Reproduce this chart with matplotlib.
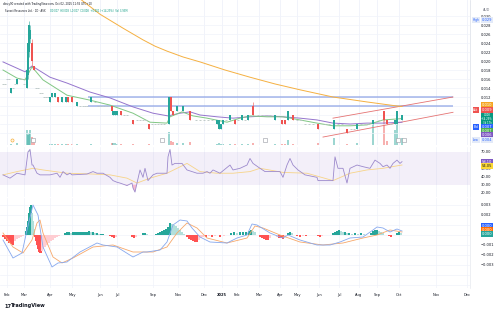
import matplotlib.pyplot as plt
import numpy as np

# ---- values; x is the bar position along the time axis ----
month_pos = [7, 24, 50, 72, 100, 117, 153, 178, 204, 222, 237, 259, 280, 297, 319, 339, 359, 377, 399, 436, 467]
month_lbl = ["Feb", "Mar", "Apr", "May", "Jun", "Jul", "Sep", "Nov", "Dec", "2025", "Feb", "Mar",
             "Apr", "May", "Jun", "Jul", "Aug", "Sep", "Oct", "Nov", "Dec"]

# daily candles, prices in thousandths of AUD, volume in millions
bar_x = [11, 17, 27, 28, 29, 30, 32, 34, 50, 52, 55, 58, 62, 66, 68, 72, 77, 91,
         112, 113, 115, 117, 121, 133, 149, 169, 171, 173, 177, 183, 190,
         217, 219, 221, 223, 230, 235, 242, 248, 253, 275, 282, 285, 288, 293,
         318, 334, 347, 357, 373, 384, 387, 395, 397, 402]
bar_open = [13, 15, 14, 17, 22, 25, 24, 19, 11, 12, 12, 12, 11, 11, 12, 12, 10, 11,
            10, 8, 8, 8, 9, 7, 6, 6, 12, 9, 9, 9, 9,
            6, 5, 5, 6, 7, 7, 7, 7, 10, 7, 7, 7, 7, 8,
            6, 5, 5, 5, 6, 9, 7, 6, 6, 7]
bar_high = [14, 16, 19, 26, 29, 28, 25, 19, 12, 13, 13, 12, 12, 12, 12, 12, 11, 12,
            10, 9, 9, 9, 9, 7, 6, 12, 12, 9, 10, 10, 9,
            7, 7, 6, 7, 8, 7, 8, 8, 11, 8, 7, 7, 9, 8,
            6, 7, 5, 6, 7, 9, 7, 7, 9, 8]
bar_low = [13, 15, 14, 16, 21, 24, 19, 18, 11, 12, 12, 11, 11, 11, 11, 11, 10, 11,
           9, 8, 8, 8, 8, 6, 5, 6, 9, 8, 9, 9, 7,
           6, 5, 5, 6, 7, 6, 7, 7, 8, 7, 6, 6, 7, 7,
           5, 5, 4, 5, 6, 7, 6, 6, 6, 7]
bar_close = [14, 16, 18, 24, 28, 27, 20, 18, 12, 13, 13, 11, 12, 12, 11, 11, 11, 12,
             9, 9, 9, 9, 8, 6, 5, 12, 9, 8, 10, 10, 7,
             7, 7, 6, 7, 8, 6, 8, 8, 8, 8, 6, 6, 9, 7,
             5, 7, 4, 6, 7, 7, 6, 7, 9, 8]
bar_vol = [3, 4, 30, 20, 24, 30, 16, 6, 3, 2, 2, 2, 2, 2, 2, 2, 3, 3,
           4, 5, 4, 3, 3, 3, 3, 26, 8, 6, 4, 4, 6,
           3, 4, 3, 3, 2, 2, 3, 2, 4, 2, 2, 2, 10, 3,
           4, 14, 3, 5, 50, 60, 8, 30, 64, 14]

# single-price (doji) days
doji_x = [3, 5, 7, 9, 13, 15, 20, 22, 24, 36, 38, 40, 42, 44, 46, 48, 80, 83, 85, 87,
          95, 98, 101, 104, 107, 124, 127, 137, 140, 143, 146, 152, 155, 158, 161, 164,
          196, 200, 204, 208, 212, 226, 238, 245, 258, 262, 266, 270, 297, 301,
          305, 309, 313, 325, 329, 338, 342, 351, 354, 361, 365, 368, 379, 391]
doji_p = [15, 15, 16, 16, 14, 15, 16, 16, 15, 14, 14, 13, 13, 12, 12, 12, 10, 10, 10, 10,
          11, 10, 10, 10, 10, 8, 8, 7, 7, 7, 7, 6, 6, 6, 6, 6,
          7, 7, 7, 7, 7, 7, 7, 7, 8, 8, 8, 8, 7, 7,
          6, 6, 6, 6, 6, 6, 6, 5, 5, 6, 6, 6, 7, 6]

# moving averages (thousandths of AUD)
ma_fast_x = [3, 17, 25, 32, 43, 67, 90, 110, 133, 150, 167, 170, 182, 193, 207, 227, 240,
             250, 267, 283, 300, 317, 333, 350, 367, 383, 402]
ma_fast_v = [18.0, 16.2, 15.8, 18.7, 15.8, 12.4, 11.3, 10.2, 8.4, 6.4, 6.2, 7.6, 8.7, 7.8,
             7.3, 6.4, 7.3, 7.8, 7.6, 7.6, 6.9, 6.2, 5.6, 5.6, 5.8, 6.9, 7.2]
ma_mid_x = [3, 25, 32, 50, 67, 90, 110, 133, 153, 168, 180, 190, 200, 217, 233, 250, 267,
            283, 300, 317, 333, 350, 367, 383, 402]
ma_mid_v = [19.8, 17.6, 18.9, 16.4, 15.1, 13.1, 11.8, 9.8, 8.4, 7.8, 8.4, 8.7, 8.0, 7.6,
            7.3, 7.6, 7.8, 7.6, 7.3, 6.9, 6.2, 6.0, 6.2, 6.2, 6.4]
ma_slow_x = [76, 100, 123, 143, 155, 167, 183, 200, 225, 250, 275, 300, 333, 367, 397, 402]
ma_slow_v = [34.5, 30.4, 27.3, 24.7, 23.3, 22.2, 20.9, 19.8, 18.0, 16.4, 14.9, 13.6, 12.0,
             10.9, 10.0, 9.9]

# drawings
level_prices = [12, 10]
level_span = (88, 453)
channel_upper = ([333, 453], [7.3, 12.0])
channel_lower = ([323, 453], [3.1, 8.6])
event_x = [12, 33, 162, 265, 398, 404]

# RSI and its moving average
rsi_x = [3, 10, 17, 25, 28, 30, 32, 33, 37, 40, 50, 57, 60, 63, 67, 70, 72, 87, 93, 97,
         103, 110, 113, 117, 120, 127, 132, 133, 135, 137, 140, 143, 145, 148, 153, 157, 167, 168, 170, 172,
         175, 182, 187, 192, 197, 203, 207, 210, 213, 220, 230, 233, 240, 247, 250, 253, 260, 265, 273, 280,
         283, 287, 290, 293, 298, 305, 317, 318, 333, 335, 338, 343, 347, 350, 357, 363, 370, 375, 380, 383,
         387, 390, 393, 397, 400, 402]
rsi_v = [42, 38, 44, 42, 70, 73, 54, 54, 44, 42, 42, 44, 39, 46, 42, 44, 42, 43, 46, 44,
         44, 39, 35, 33, 32, 29, 32, 26, 21, 32, 48, 39, 50, 35, 42, 44, 44, 64, 73, 54,
         56, 56, 48, 46, 44, 44, 46, 44, 48, 44, 54, 48, 50, 54, 62, 56, 50, 46, 46, 46,
         39, 54, 62, 54, 48, 42, 39, 35, 35, 64, 50, 50, 32, 50, 54, 52, 50, 60, 56, 52,
         54, 50, 56, 60, 56, 58.1]
rsi_ma_x = [3, 17, 33, 43, 67, 93, 110, 127, 137, 150, 167, 187, 200, 217, 233, 250, 260,
            283, 307, 333, 350, 367, 383, 402]
rsi_ma_v = [42, 46, 50, 48, 44, 43, 42, 38, 32, 38, 44, 56, 46, 44, 44, 46, 50,
            45, 44, 35, 44, 48, 50, 54.05]

# MACD (units of 0.0001)
macd_x = [3, 13, 22, 27, 33, 38, 43, 52, 58, 67, 80, 97, 103, 117, 133, 143, 147, 160, 167, 173,
          180, 187, 192, 200, 210, 227, 237, 247, 252, 257, 270, 280, 283, 288, 300, 317, 330, 340,
          350, 363, 373, 377, 383, 390, 397, 402]
macd_v = [-5, -23, -18, 5, 30, 20, -12, -32, -28, -27, -17, -8, -10, -12, -22, -17, -17, -15, -7, 10,
          15, 14, 7, -2, -7, -8, -3, 0, 11, 10, 2, -2, -3, 0, -5, -10, -10, -7,
          -3, -2, 5, 8, 7, 3, 6, 4]
signal_x = [3, 13, 23, 32, 37, 40, 43, 53, 62, 73, 93, 113, 133, 153, 167, 177, 187, 197, 207, 227,
            247, 255, 263, 280, 300, 323, 343, 363, 377, 390, 402]
signal_v = [2, -12, -18, -5, 12, 15, 2, -22, -28, -23, -12, -10, -17, -17, -12, 2, 12, 7, -3, -8,
            -3, 9, 7, 0, -7, -10, -8, -3, 0, 5, 3]
hist_x = [3, 5, 7, 9, 11, 13, 15, 17, 19, 21, 23, 26, 27, 28, 29, 30, 31, 32, 33, 34,
          35, 36, 37, 38, 39, 40, 41, 42, 43, 45, 47, 49, 51, 53, 55, 57, 59,
          65, 67, 69, 71, 73, 75, 77, 79, 81, 83, 85, 87, 89, 91, 93, 95, 97, 99, 101, 103,
          110, 112, 114, 116, 132, 134, 136, 143, 145, 147,
          156, 158, 160, 162, 164, 166, 168, 170, 172, 174, 176, 178, 180, 182, 184,
          187, 189, 191, 193, 195, 197, 199, 201, 203, 206, 209, 212, 215, 220, 224,
          231, 234, 237, 240, 243, 246, 249, 251, 253, 255, 260, 262, 264, 266, 268, 270,
          277, 279, 281, 283, 285, 288, 290, 292, 297, 300, 303, 306, 318, 320, 322,
          333, 335, 337, 339, 341, 343, 345, 347, 349, 352, 355, 358, 361, 364,
          371, 373, 375, 377, 379, 381, 383, 389, 391, 397, 399, 401]
hist_v = [-2, -4, -6, -8, -9, -10, -6, -4, -3, -2, -1, 4, 8, 14, 22, 28, 30, 22, 14, 6,
          -2, -6, -10, -14, -17, -18, -18, -16, -14, -12, -10, -8, -6, -5, -3, -2, -1,
          2, 3, 3, 2, 3, 3, 3, 3, 3, 3, 3, 3, 4, 3, 3, 2, 2, 1, 1, 1,
          -1, -2, -3, -2, -2, -3, -2, 2, 2, 1,
          1, 2, 3, 4, 5, 6, 8, 12, 11, 10, 9, 7, 5, 3, 1,
          -2, -4, -5, -6, -7, -7, -5, -3, -2, -2, -1, -2, -1, -2, -1,
          2, 3, 2, 3, 3, 3, 4, 5, 4, 3, -2, -3, -4, -5, -5, -3,
          -2, -3, -3, -4, -2, 2, 3, 2, -1, -2, -1, -1, -1, -2, -1,
          2, 3, 4, 5, 4, 3, 3, 2, 2, 1, 2, 1, 2, 1,
          2, 4, 5, 5, 4, 3, 2, -1, -2, 2, 3, 2]

# ---- figure ----
W, H = 500, 314
UP, DOWN = "#26a69a", "#ef5350"
GRID = "#f0f3fa"
TXT = "#131722"
fig = plt.figure(figsize=(W / 100, H / 100), dpi=100, facecolor="white")


def pane(y0, y1):
    ax = fig.add_axes([0, 1 - y1 / H, 470 / W, (y1 - y0) / H])
    ax.set_xlim(0, 470)
    for s in ax.spines.values():
        s.set_visible(False)
    ax.spines["right"].set_visible(True)
    ax.spines["right"].set_color("#e0e3eb")
    ax.spines["right"].set_linewidth(0.4)
    for p in month_pos:
        ax.axvline(p, color=GRID, lw=0.5, zorder=0)
    ax.tick_params(axis="y", left=False, labelleft=False, right=True, labelright=True,
                   length=0, pad=8, labelsize=2.6, labelcolor=TXT)
    ax.tick_params(axis="x", bottom=False, labelbottom=False)
    return ax


def tag(x, y, text, fc, tc="white", size=2.6):
    fig.text(x / W, 1 - y / H, text, fontsize=size, color=tc, ha="center", va="center",
             linespacing=1.0, bbox=dict(boxstyle="square,pad=0.2", fc=fc, ec="none"))


k = 0.001
# volume sits underneath the price pane
ax_v = pane(0, 145)
ax_v.set_ylim(0, 290)
ax_v.set_yticks([])
vcol = [UP if c >= o else DOWN for o, c in zip(bar_open, bar_close)]
ax_v.bar(bar_x, bar_vol, width=1.4, color=vcol, alpha=0.45, zorder=1)

ax_p = pane(0, 145)
ax_p.patch.set_visible(False)
ax_p.set_ylim(0.001333, 0.03356)
ticks = [0.004 + 0.002 * i for i in range(14)]
ax_p.set_yticks(ticks, [f"{t:.3f}" if t > 0.011 else "" for t in ticks])
for t in ticks:
    ax_p.axhline(t, color=GRID, lw=0.5, zorder=0)

for y in level_prices:
    ax_p.hlines(y * k, *level_span, color="#8ea4e6", lw=1.2, alpha=0.75, zorder=2)
for xs, ys in (channel_upper, channel_lower):
    ax_p.plot(xs, np.array(ys) * k, color="#e57373", lw=0.6, zorder=2)

ax_p.plot(ma_slow_x, np.array(ma_slow_v) * k, color="#f5b041", lw=0.7, zorder=3)
ax_p.plot(ma_mid_x, np.array(ma_mid_v) * k, color="#9575cd", lw=0.7, zorder=3)
ax_p.plot(ma_fast_x, np.array(ma_fast_v) * k, color="#81c784", lw=0.7, zorder=3)

ax_p.hlines(np.array(doji_p) * k, np.array(doji_x) - 0.8, np.array(doji_x) + 0.8,
            color="#b8c4c2", lw=0.6, zorder=3)
o, hi, lo, c = (np.array(a) * k for a in (bar_open, bar_high, bar_low, bar_close))
ax_p.vlines(bar_x, lo, hi, color=vcol, lw=0.4, zorder=4)
ax_p.bar(bar_x, np.where(c == o, 0.0002, c - o), bottom=o, width=1.5, color=vcol, zorder=4)

ev_tr = ax_p.get_xaxis_transform()
for i, ex in enumerate(event_x):
    if i == 0:
        ax_p.scatter([ex], [0.035], s=5, facecolor="#fff3e0", edgecolor="#f5a623", lw=0.4, transform=ev_tr, zorder=5)
    else:
        ax_p.scatter([ex], [0.035], s=5, marker="s", facecolor="white", edgecolor="#9598a1", lw=0.4, transform=ev_tr, zorder=5)

# ---- RSI pane ----
ax_r = pane(147, 197)
ax_r.set_ylim(15, 76)
ax_r.set_yticks([20, 30, 40, 50, 70], ["20.00", "30.00", "40.00", "50.00", "70.00"])
ax_r.axhspan(30, 70, color="#7e57c2", alpha=0.09, lw=0)
rx, rv = np.array(rsi_x), np.array(rsi_v, dtype=float)
ax_r.fill_between(rx, rv, 30, where=rv < 30, interpolate=True, color="#f48fb1", alpha=0.6, lw=0)
ax_r.fill_between(rx, rv, 70, where=rv > 70, interpolate=True, color="#a5d6a7", alpha=0.6, lw=0)
ax_r.plot(rsi_ma_x, rsi_ma_v, color="#f7d488", lw=0.6)
ax_r.plot(rx, rv, color="#9c89cc", lw=0.6)

# ---- MACD pane ----
ax_m = pane(198, 288)
ax_m.set_ylim(-0.0053, 0.0037)
mt = [0.003, 0.002, -0.001, -0.002, -0.003]
ax_m.set_yticks(mt, [f"{t:.3f}".replace("-", "\u2212") for t in mt])
for t in [0.003, 0.002, 0.001, 0, -0.001, -0.002, -0.003, -0.004, -0.005]:
    ax_m.axhline(t, color=GRID, lw=0.5, zorder=0)
hv = np.array(hist_v, dtype=float)
prev = np.concatenate([[0], hv[:-1]])
hcol = [("#26a69a" if v >= p else "#b2dfdb") if v >= 0 else ("#ff5252" if v <= p else "#ffcdd2")
        for v, p in zip(hv, prev)]
ax_m.bar(hist_x, hv * 1e-4, width=1.7, color=hcol, zorder=2)
ax_m.plot(signal_x, np.array(signal_v) * 1e-4, color="#f7a86a", lw=0.6, zorder=3)
ax_m.plot(macd_x, np.array(macd_v) * 1e-4, color="#86a8ee", lw=0.6, zorder=3)
ax_m.set_xticks(month_pos, month_lbl)
ax_m.tick_params(axis="x", labelbottom=True, length=0, pad=3.5, labelsize=2.6, labelcolor=TXT)
for lbl in ax_m.get_xticklabels():
    if lbl.get_text() == "2025":
        lbl.set_fontweight("bold")

# ---- price-scale labels ----
fig.text(487 / W, 1 - 10 / H, "AUD", fontsize=2.4, color="#787b86", ha="center", va="center")
tag(476, 20, "High", "#e3eaf8", "#2962ff", 2.2)
tag(487, 20, f"{max(bar_high) * k:.3f}", "#e3eaf8", "#2962ff")
tag(487, 105, f"{ma_slow_v[-1] * k:.3f}", "#f5a623")
tag(476, 110, "Ask", "#ef5350", size=2.2)
tag(487, 110, "0.009", "#ef5350")
tag(487, 119, f"{bar_close[-1] * k:.3f}\n+14.29%\n3d 17h", "#089981", size=1.8)
tag(476, 127, "Bid", "#2962ff", size=2.2)
tag(487, 127, "0.007", "#2962ff")
tag(487, 131, f"{ma_fast_v[-1] * k:.3f}", "#4caf50")
tag(487, 135, f"{ma_mid_v[-1] * k:.3f}", "#7e57c2")
tag(476, 140, "Low", "#e3eaf8", "#2962ff", 2.2)
tag(487, 140, f"{min(bar_low) * k:.3f}", "#e3eaf8", "#2962ff")
tag(487, 162, f"{rsi_v[-1]:.2f}", "#7e57c2")
tag(487, 166, f"{rsi_ma_v[-1]:.2f}", "#fdd835", TXT)
tag(487, 226, f"{macd_v[-1] * 1e-4:.3f}", "#2962ff")
tag(487, 230, f"{signal_v[-1] * 1e-4:.3f}", "#ff6d00")
tag(487, 234, f"{hist_v[-1] * 1e-4:.3f}", "#26a69a")

# ---- header and footer ----
fig.text(3 / W, 1 - 4 / H, "dinzy90 created with TradingView.com, Oct 02, 2025 11:55 UTC+10",
         fontsize=1.9, color=TXT, va="center")
fig.text(5 / W, 1 - 11 / H, "Sunset Resources Ltd. \u00b7 1D \u00b7 ASX", fontsize=1.8, color=TXT, va="center")
fig.text(50 / W, 1 - 11 / H, "O0.007  H0.008  L0.007  C0.008  +0.001 (+14.29%)  Vol 3.93M",
         fontsize=1.8, color="#089981", va="center")
fig.text(4 / W, 1 - 306 / H, "17", fontsize=3.6, color=TXT, weight="bold", va="center")
fig.text(11 / W, 1 - 306 / H, "TradingView", fontsize=3.6, color=TXT, weight="bold", va="center")

fig.savefig("out.png", dpi=100, facecolor="white")
